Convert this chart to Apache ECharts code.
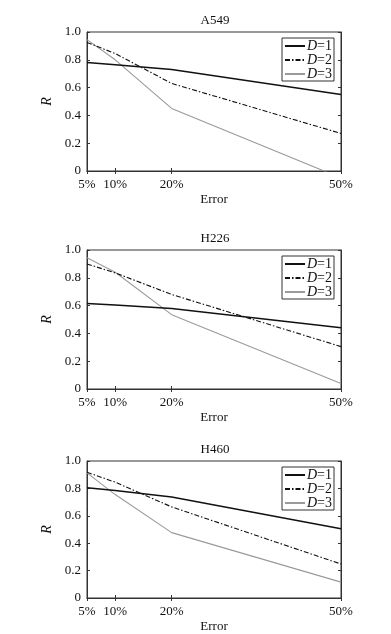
<!DOCTYPE html>
<html>
<head>
<meta charset="utf-8">
<script src="https://cdn.jsdelivr.net/npm/echarts@6/dist/echarts.min.js"></script>
<style>
html,body{margin:0;padding:0;background:#fff;}
#chart{width:391px;height:634px;}
</style>
</head>
<body>
<div id="chart"></div>
<script>
// ---- data ----
var panelTitles = ['A549', 'H226', 'H460'];
var errorValues = [5, 10, 20, 50];
var errorLabels = ['5%', '10%', '20%', '50%'];
var seriesNames = ['D=1', 'D=2', 'D=3'];

var a549_D1 = [0.78, 0.765, 0.73, 0.55];
var a549_D2 = [0.925, 0.845, 0.63, 0.27];
var a549_D3 = [0.945, 0.80, 0.45, -0.05];

var h226_D1 = [0.615, 0.605, 0.58, 0.44];
var h226_D2 = [0.90, 0.835, 0.68, 0.305];
var h226_D3 = [0.945, 0.84, 0.535, 0.04];

var h460_D1 = [0.805, 0.785, 0.737, 0.505];
var h460_D2 = [0.918, 0.845, 0.665, 0.248];
var h460_D3 = [0.913, 0.755, 0.477, 0.116];

var panelData = [
  [a549_D1, a549_D2, a549_D3],
  [h226_D1, h226_D2, h226_D3],
  [h460_D1, h460_D2, h460_D3]
];

// ---- layout / style ----
var FONT = "'Liberation Serif','Times New Roman',serif";
var gridTops = [32, 250, 461];
var gridLeft = 87, gridWidth = 254, gridHeight = 139;
var lineStyles = [
  {color: '#111', width: 1.5, type: 'solid'},
  {color: '#111', width: 1.1, type: [5, 2, 1.5, 2]},
  {color: '#9a9a9a', width: 1.1, type: 'solid'}
];
var axisColor = '#333';

var option = {
  backgroundColor: '#fff',
  animation: false,
  title: [], grid: [], xAxis: [], yAxis: [], legend: [], series: []
};

panelTitles.forEach(function (t, p) {
  var top = gridTops[p];
  option.title.push({
    text: t, left: gridLeft + gridWidth / 2 - 4, top: top - 23, textAlign: 'center',
    textStyle: {fontFamily: FONT, fontSize: 13, fontWeight: 'normal', color: '#111'}
  });
  option.grid.push({left: gridLeft, top: top, width: gridWidth, height: gridHeight,
    show: true, borderColor: axisColor, borderWidth: 1});
  option.xAxis.push({
    type: 'value', gridIndex: p, min: 5, max: 50, position: 'bottom',
    name: 'Error', nameLocation: 'middle', nameGap: 22,
    nameTextStyle: {fontFamily: FONT, fontSize: 13, color: '#111'},
    axisLine: {show: true, lineStyle: {color: axisColor}},
    axisTick: {show: true, inside: true, length: 3, customValues: errorValues, lineStyle: {color: axisColor}},
    axisLabel: {show: true, customValues: errorValues, margin: 7,
      fontFamily: FONT, fontSize: 13, color: '#111',
      formatter: function (v) { var i = errorValues.indexOf(v); return i >= 0 ? errorLabels[i] : ''; }},
    splitLine: {show: false}
  });
  option.xAxis.push({
    type: 'value', gridIndex: p, min: 5, max: 50, position: 'top',
    axisLine: {show: true, lineStyle: {color: axisColor}},
    axisTick: {show: true, inside: true, length: 3, customValues: errorValues, lineStyle: {color: axisColor}},
    axisLabel: {show: false}, splitLine: {show: false}
  });
  option.yAxis.push({
    type: 'value', gridIndex: p, min: 0, max: 1, interval: 0.2, position: 'left',
    name: 'R', nameLocation: 'middle', nameGap: 30, nameRotate: 90,
    nameTextStyle: {fontFamily: FONT, fontSize: 14, fontStyle: 'italic', color: '#111'},
    axisLine: {show: true, lineStyle: {color: axisColor}},
    axisTick: {show: true, inside: true, length: 3, lineStyle: {color: axisColor}},
    axisLabel: {margin: 6, fontFamily: FONT, fontSize: 13, color: '#111',
      formatter: function (v) { return v === 0 ? '0' : v.toFixed(1); }},
    splitLine: {show: false}
  });
  option.yAxis.push({
    type: 'value', gridIndex: p, min: 0, max: 1, interval: 0.2, position: 'right',
    axisLine: {show: true, lineStyle: {color: axisColor}},
    axisTick: {show: true, inside: true, length: 3, lineStyle: {color: axisColor}},
    axisLabel: {show: false}, splitLine: {show: false}
  });
  option.legend.push({
    orient: 'vertical', left: 282, top: top + 6,
    data: seriesNames,
    padding: [1, 2, 0, 2], itemGap: 0, itemWidth: 20, itemHeight: 8,
    borderColor: axisColor, borderWidth: 1, backgroundColor: '#fff', borderRadius: 0,
    selectedMode: false,
    itemStyle: {opacity: 0},
    textStyle: {fontFamily: FONT, fontSize: 14, color: '#111', padding: [0, 0, 0, -3],
      lineHeight: 12, height: 12,
      rich: {i: {fontFamily: FONT, fontSize: 14, fontStyle: 'italic', color: '#111', lineHeight: 12, height: 12},
             n: {fontFamily: FONT, fontSize: 14, color: '#111', lineHeight: 12, height: 12}}},
    formatter: function (name) { return '{i|D}{n|' + name.slice(1) + '}'; }
  });
  seriesNames.forEach(function (n, s) {
    var vals = panelData[p][s];
    option.series.push({
      type: 'line', name: n, xAxisIndex: p * 2, yAxisIndex: p * 2,
      data: errorValues.map(function (x, i) { return [x, vals[i]]; }),
      symbol: 'none', clip: true, silent: true,
      lineStyle: lineStyles[s],
      itemStyle: {color: lineStyles[s].color},
      z: 3 - s
    });
  });
});

var chart = echarts.init(document.getElementById('chart'), null, {renderer: 'canvas'});
chart.setOption(option);
</script>
</body>
</html>
